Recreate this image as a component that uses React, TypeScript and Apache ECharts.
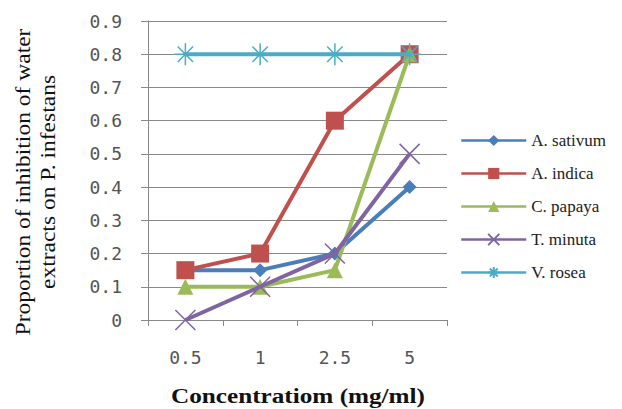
import React, { useEffect, useRef } from "react";
import * as echarts from "echarts";

const categories = ["0.5", "1", "2.5", "5"];
const seriesNames = ["A. sativum", "A. indica", "C. papaya", "T. minuta", "V. rosea"];
const aSativum = [0.15, 0.15, 0.2, 0.4];
const aIndica = [0.15, 0.2, 0.6, 0.8];
const cPapaya = [0.1, 0.1, 0.15, 0.8];
const tMinuta = [0, 0.1, 0.2, 0.5];
const vRosea = [0.8, 0.8, 0.8, 0.8];
const yTicks = { min: 0, max: 0.9, interval: 0.1 };

const colors = ["#4A7EBB", "#C0504D", "#9BBB59", "#8064A2", "#4BACC6"];
const crossPath = "path://M0,0L10,10M10,0L0,10";
const starPath = "path://M0,5L10,5M5,0L5,10M1.5,1.5L8.5,8.5M8.5,1.5L1.5,8.5";
const serif = "'Liberation Serif', 'Times New Roman', serif";

export default function App() {
  const ref = useRef<HTMLDivElement>(null);
  useEffect(() => {
    const chart = echarts.init(ref.current!, undefined, { renderer: "svg" });
    const datasets = [aSativum, aIndica, cPapaya, tMinuta, vRosea];
    const symbols = ["diamond", "rect", "triangle", crossPath, starPath];
    const sizes = [14, 18, 16, 20, 22];
    const legendText = { fontFamily: serif, fontSize: 17, color: "#222" };
    chart.setOption({
      animation: false,
      backgroundColor: "#fff",
      textStyle: { fontFamily: serif },
      grid: { left: 148, right: 175, top: 21, bottom: 89 },
      legend: {
        orient: "vertical",
        left: 460,
        top: 132,
        padding: 0,
        itemWidth: 65,
        itemHeight: 14,
        itemGap: 16,
        lineStyle: { width: 2.5 },
        textStyle: legendText,
        data: seriesNames.map((n) => ({ name: n, textStyle: legendText })),
      },
      xAxis: {
        type: "category",
        data: categories,
        boundaryGap: true,
        axisLine: { lineStyle: { color: "#888", width: 1 } },
        axisTick: { show: true, length: 6, lineStyle: { color: "#888" } },
        axisLabel: { margin: 28, fontFamily: "DejaVu Sans Mono", fontSize: 18, color: "#555" },
      },
      yAxis: {
        type: "value",
        min: yTicks.min,
        max: yTicks.max,
        interval: yTicks.interval,
        axisLine: { show: true, lineStyle: { color: "#888", width: 1 } },
        axisTick: { show: true, length: 7, lineStyle: { color: "#888" } },
        splitLine: { lineStyle: { color: "#888", width: 1 } },
        axisLabel: {
          margin: 26,
          fontFamily: "DejaVu Sans Mono",
          fontSize: 18,
          color: "#555",
          formatter: (v: number) => (v === 0 ? "0" : v.toFixed(1)),
        },
      },
      series: datasets.map((d, i) => ({
        name: seriesNames[i],
        type: "line",
        data: d,
        symbol: symbols[i],
        symbolSize: sizes[i],
        lineStyle: { color: colors[i], width: 4 },
        itemStyle: { color: colors[i], borderColor: colors[i], borderWidth: i >= 3 ? 1.5 : 0 },
        z: 2 + i,
      })),
      graphic: [
        {
          type: "text",
          x: 35,
          y: 182,
          rotation: Math.PI / 2,
          scaleX: 1.12,
          style: {
            text: "Proportion of inhibition of water\nextracts on P. infestans",
            fontFamily: serif,
            fontSize: 21,
            lineHeight: 25,
            fill: "#111",
            textAlign: "center",
            textVerticalAlign: "middle",
          },
        },
        {
          type: "text",
          x: 298,
          y: 396,
          scaleX: 1.2,
          style: {
            text: "Concentratiom (mg/ml)",
            fontFamily: serif,
            fontSize: 21,
            fontWeight: "bold",
            fill: "#111",
            textAlign: "center",
            textVerticalAlign: "middle",
          },
        },
      ],
    });
    return () => chart.dispose();
  }, []);
  return <div ref={ref} style={{ width: 622, height: 409, position: "absolute", left: 0, top: 0 }} />;
}
